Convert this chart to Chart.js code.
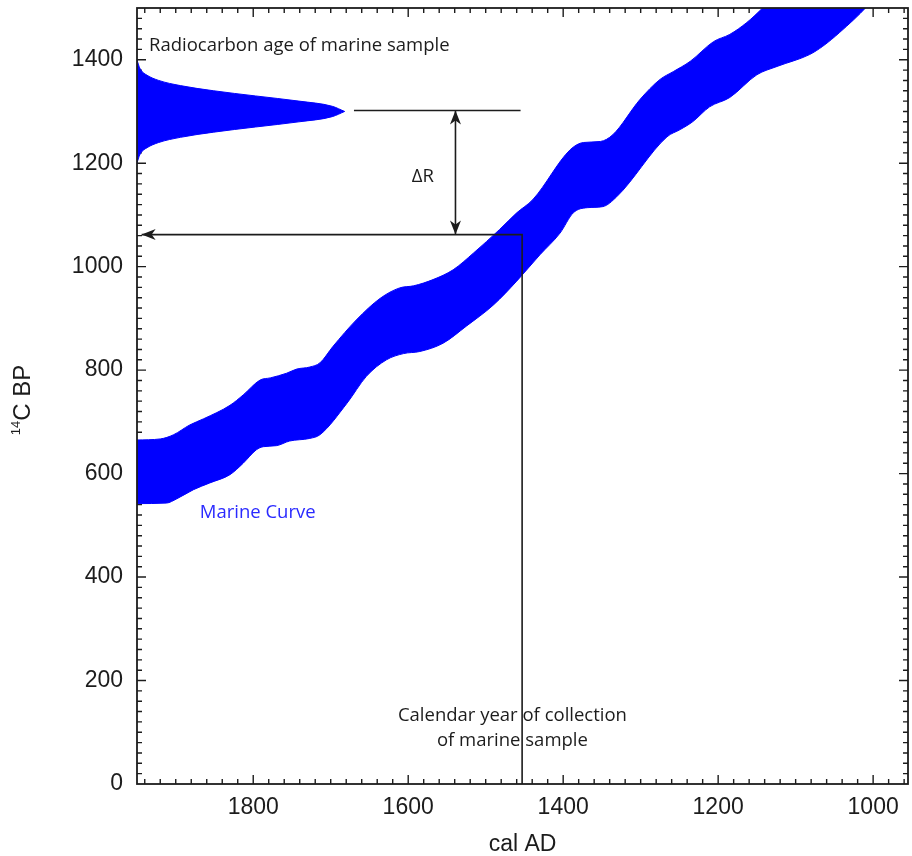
<!DOCTYPE html>
<html>
<head>
<meta charset="utf-8">
<script src="https://cdn.jsdelivr.net/npm/chart.js@4.4.1/dist/chart.umd.min.js"></script>
<style>
  html, body { margin: 0; padding: 0; background: #ffffff; }
  canvas { display: block; }
</style>
</head>
<body>
<canvas id="chart" width="912" height="856"></canvas>
<script>
// Marine calibration curve envelope: upper (older) edge, cal AD vs 14C BP
const curveUpperYears = [1950, 1920, 1903, 1882, 1864, 1830, 1813, 1791, 1778, 1757, 1744, 1727, 1714, 1697, 1667, 1636, 1611, 1593, 1568, 1542, 1516, 1482, 1460, 1439, 1391, 1374, 1352, 1336, 1301, 1275, 1258, 1236, 1206, 1185, 1163, 1142, 1120, 1090, 1040, 985];
const curveUpperAges  = [665, 667, 675, 694, 706, 732, 752, 781, 785, 794, 802, 806, 814, 846, 897, 939, 959, 963, 975, 994, 1026, 1072, 1104, 1130, 1226, 1240, 1242, 1255, 1323, 1362, 1377, 1397, 1435, 1449, 1472, 1501, 1536, 1580, 1650, 1730];

// Marine calibration curve envelope: lower (younger) edge
const curveLowerYears = [1950, 1912, 1899, 1877, 1856, 1830, 1813, 1796, 1787, 1770, 1753, 1727, 1714, 1679, 1654, 1628, 1606, 1585, 1555, 1525, 1490, 1460, 1430, 1404, 1387, 1369, 1349, 1331, 1266, 1249, 1233, 1211, 1185, 1150, 1124, 1082, 1065, 1043, 1008, 985];
const curveLowerAges  = [542, 543, 551, 569, 582, 598, 620, 646, 652, 654, 663, 668, 675, 736, 788, 820, 832, 836, 852, 885, 926, 972, 1023, 1065, 1104, 1114, 1116, 1135, 1251, 1265, 1280, 1309, 1327, 1371, 1387, 1410, 1426, 1453, 1503, 1545];

// Measured radiocarbon age distribution of the marine sample (drawn against the left axis)
const pdfYears     = [1950, 1948, 1945, 1937, 1922, 1894, 1851, 1797, 1741, 1698, 1682];
const pdfUpperAges = [1400, 1390, 1380, 1370, 1360, 1350, 1340, 1330, 1320, 1310, 1300];
const pdfLowerAges = [1200, 1210, 1220, 1230, 1240, 1250, 1260, 1270, 1280, 1290, 1300];

// Guide lines: sample age level, Delta-R span, and readout from the collection year
const sampleLineYears = [1670, 1455];
const sampleLineAges  = [1302, 1302];
const deltaRYears     = [1539, 1539];
const deltaRAges      = [1302, 1062];
const readoutYears    = [1944, 1453, 1453];
const readoutAges     = [1062, 1062, 0];

// Axis ticks
const xTickValues = [1800, 1600, 1400, 1200, 1000];
const xTickLabels = ['1800', '1600', '1400', '1200', '1000'];
const yTickValues = [0, 200, 400, 600, 800, 1000, 1200, 1400];
const yTickLabels = ['0', '200', '400', '600', '800', '1000', '1200', '1400'];

const ink = '#1c1c1c';
const blue = '#0000ff';

function points(xs, ys) {
  return xs.map((x, i) => ({ x: x, y: ys[i] }));
}

function guide(xs, ys) {
  return {
    data: points(xs, ys),
    borderColor: ink,
    borderWidth: 1.6,
    pointRadius: 0,
    fill: false,
    tension: 0
  };
}

function edge(xs, ys, fill) {
  return {
    data: points(xs, ys),
    borderColor: blue,
    backgroundColor: blue,
    borderWidth: 1,
    pointRadius: 0,
    fill: fill,
    cubicInterpolationMode: 'monotone'
  };
}

function arrowHead(ctx, tipX, tipY, dx, dy) {
  const L = 14, W = 5.5, N = 10;
  const nx = -dy, ny = dx;
  const bx = tipX - dx * L, by = tipY - dy * L;
  ctx.beginPath();
  ctx.moveTo(tipX, tipY);
  ctx.lineTo(bx + nx * W, by + ny * W);
  ctx.lineTo(tipX - dx * N, tipY - dy * N);
  ctx.lineTo(bx - nx * W, by - ny * W);
  ctx.closePath();
  ctx.fill();
}

// Text notes placed in data coordinates
const notes = [
  { text: 'Radiocarbon age of marine sample', year: 1934.5, age: 1427, align: 'left', color: ink },
  { text: '\u0394R', year: 1581, age: 1174, align: 'center', color: ink },
  { text: 'Marine Curve', year: 1869, age: 524, align: 'left', color: '#2a2aff' },
  { text: 'Calendar year of collection', year: 1465.5, age: 131, align: 'center', color: ink },
  { text: 'of marine sample', year: 1465.5, age: 83, align: 'center', color: ink }
];

const frameAndNotes = {
  id: 'frameAndNotes',
  beforeDatasetsDraw(chart) {
    // inward tick marks on all four sides, underneath the curve
    const { ctx, chartArea: a, scales: { x, y } } = chart;
    ctx.save();
    ctx.strokeStyle = ink;
    ctx.lineWidth = 1.4;
    ctx.beginPath();
    for (let v = 20; v < 1500; v += 20) {
      const py = y.getPixelForValue(v);
      const len = v % 200 === 0 ? 9 : 5;
      ctx.moveTo(a.left, py); ctx.lineTo(a.left + len, py);
      ctx.moveTo(a.right, py); ctx.lineTo(a.right - len, py);
    }
    for (let v = 960; v < 1950; v += 20) {
      const px = x.getPixelForValue(v);
      const len = v % 200 === 0 ? 9 : 5;
      ctx.moveTo(px, a.top); ctx.lineTo(px, a.top + len);
      ctx.moveTo(px, a.bottom); ctx.lineTo(px, a.bottom - len);
    }
    ctx.stroke();
    ctx.restore();
  },
  afterDatasetsDraw(chart) {
    const { ctx, chartArea: a, scales: { x, y } } = chart;
    ctx.save();
    // plot frame
    ctx.strokeStyle = ink;
    ctx.lineWidth = 1.8;
    ctx.strokeRect(a.left, a.top, a.right - a.left, a.bottom - a.top);

    // arrowheads on the guide lines
    ctx.fillStyle = ink;
    arrowHead(ctx, x.getPixelForValue(readoutYears[0]), y.getPixelForValue(readoutAges[0]), -1, 0);
    arrowHead(ctx, x.getPixelForValue(deltaRYears[0]), y.getPixelForValue(deltaRAges[0]), 0, -1);
    arrowHead(ctx, x.getPixelForValue(deltaRYears[1]), y.getPixelForValue(deltaRAges[1]), 0, 1);

    // annotation text
    ctx.font = '18.5px "Open Sans"';
    ctx.textBaseline = 'middle';
    notes.forEach(n => {
      ctx.fillStyle = n.color;
      ctx.textAlign = n.align;
      ctx.fillText(n.text, x.getPixelForValue(n.year), y.getPixelForValue(n.age));
    });

    // vertical axis title with superscript mass number
    const cy = (a.top + a.bottom) / 2 + 4;
    ctx.translate(21, cy);
    ctx.rotate(-Math.PI / 2);
    ctx.fillStyle = ink;
    ctx.textAlign = 'left';
    ctx.textBaseline = 'alphabetic';
    ctx.font = '13px "Liberation Sans"';
    const w1 = ctx.measureText('14').width;
    ctx.font = '24px "Liberation Sans"';
    const w2 = ctx.measureText('C BP').width;
    const start = -(w1 + w2) / 2;
    ctx.font = '13px "Liberation Sans"';
    ctx.fillText('14', start, -1);
    ctx.font = '24px "Liberation Sans"';
    ctx.fillText('C BP', start + w1, 8.5);
    ctx.restore();
  }
};

new Chart(document.getElementById('chart'), {
  type: 'line',
  data: {
    datasets: [
      guide(readoutYears, readoutAges),
      guide(deltaRYears, deltaRAges),
      guide(sampleLineYears, sampleLineAges),
      edge(curveUpperYears, curveUpperAges, false),
      edge(curveLowerYears, curveLowerAges, '-1'),
      edge(pdfYears, pdfUpperAges, false),
      edge(pdfYears, pdfLowerAges, '-1')
    ]
  },
  options: {
    responsive: false,
    animation: false,
    devicePixelRatio: 1,
    layout: { padding: { left: 0, right: 4, top: 8, bottom: 0 } },
    plugins: {
      legend: { display: false },
      tooltip: { enabled: false }
    },
    scales: {
      x: {
        type: 'linear',
        reverse: true,
        min: 955,
        max: 1950,
        grid: { display: false, drawTicks: false },
        border: { display: false },
        afterBuildTicks: s => { s.ticks = xTickValues.map(v => ({ value: v })); },
        afterFit: s => { s.height = 72; s.paddingLeft = 0; s.paddingRight = 0; },
        ticks: {
          padding: 10,
          color: ink,
          font: { family: '"Liberation Sans", Arial, sans-serif', size: 23 },
          maxRotation: 0,
          callback: v => xTickLabels[xTickValues.indexOf(v)]
        },
        title: {
          display: true,
          text: 'cal AD',
          color: ink,
          padding: { top: 0, bottom: 0 },
          font: { family: '"Liberation Sans", Arial, sans-serif', size: 23, lineHeight: 1 }
        }
      },
      y: {
        type: 'linear',
        min: 0,
        max: 1500,
        grid: { display: false, drawTicks: false },
        border: { display: false },
        afterBuildTicks: s => { s.ticks = yTickValues.map(v => ({ value: v })); },
        afterFit: s => { s.width = 137; s.paddingTop = 0; s.paddingBottom = 0; },
        ticks: {
          padding: 14,
          color: ink,
          font: { family: '"Liberation Sans", Arial, sans-serif', size: 23 },
          callback: v => yTickLabels[yTickValues.indexOf(v)]
        }
      }
    }
  },
  plugins: [frameAndNotes]
});
</script>
</body>
</html>
